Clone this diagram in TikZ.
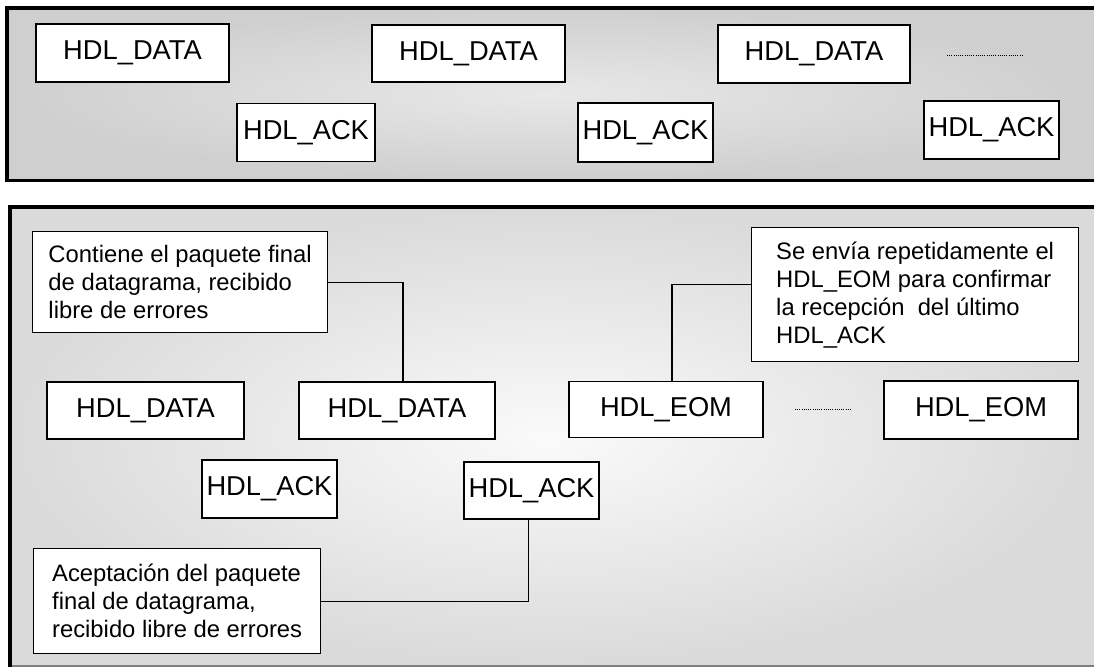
\documentclass[tikz,border=0pt]{standalone}
\usepackage{fontspec}
\setmainfont{Liberation Sans}
\definecolor{topout}{HTML}{CFCFCF}
\definecolor{topin}{HTML}{E8E8E8}
\definecolor{botout}{HTML}{DADADA}
\definecolor{botin}{HTML}{FAFAFA}
\begin{document}
\begin{tikzpicture}[x=1pt,y=-1pt,
  pkt/.style={draw=black, line width=1.3pt, fill=white, inner sep=0pt,
    font=\fontsize{27.3}{31}\selectfont, minimum height=58pt},
  note/.style={draw=black, line width=1.3pt, fill=white, align=left,
    font=\fontsize{23.8}{28}\selectfont, inner sep=0pt, anchor=north west},
  link/.style={line width=1.3pt, draw=black},
  dotline/.style={line width=0.9pt, dash pattern=on 1pt off 1.2pt},
  frame/.style={line width=3.5pt, draw=black}]
\useasboundingbox (0,0) rectangle (1094,667);
% top panel
\fill[topout] (7,8) rectangle (1094,180);
\shade[inner color=topin, outer color=topout] (7,8) rectangle (1086,180);
\draw[frame] (1094,8) -- (7,8) -- (7,180.5) -- (1094,180.5);
% bottom panel
\fill[botout] (10,207) rectangle (1094,666);
\shade[inner color=botin, outer color=botout] (10,207) rectangle (1086,666);
\draw[gray, line width=1.2pt] (10,666) -- (1094,666);
\draw[frame, line width=4pt] (1094,207) -- (10,207) -- (10,667);

% top panel packets
\node[pkt, minimum width=193pt] (d1) at (132.5,53) {HDL\_DATA};
\node[pkt, minimum width=138pt] (a1) at (306,132.5) {HDL\_ACK};
\node[pkt, minimum width=193pt, minimum height=57pt] (d2) at (468.5,53.5) {HDL\_DATA};
\node[pkt, minimum width=135pt, minimum height=59pt] (a2) at (645.5,132.5) {HDL\_ACK};
\node[pkt, minimum width=192pt] (d3) at (814,54) {HDL\_DATA};
\node[pkt, minimum width=135pt] (a3) at (991.5,130) {HDL\_ACK};
\draw[dotline] (947,55) -- (1022,55);

% bottom panel packets
\node[pkt, minimum width=197pt, minimum height=57pt] (da) at (145.5,410.5) {HDL\_DATA};
\node[pkt, minimum width=196pt, minimum height=57pt] (db) at (397,410.5) {HDL\_DATA};
\node[pkt, minimum width=194pt, minimum height=56pt] (ea) at (666,409.5) {HDL\_EOM};
\node[pkt, minimum width=194pt] (eb) at (981,410) {HDL\_EOM};
\draw[dotline] (795,409) -- (851,409);
\node[pkt, minimum width=135pt] (aa) at (269.5,489) {HDL\_ACK};
\node[pkt, minimum width=135pt, minimum height=57pt] (ab) at (531.5,490.5) {HDL\_ACK};

% notes
\node[note, minimum width=295pt, minimum height=101pt] (c1) at (32,231)
  {Contiene el paquete final\\de datagrama, recibido\\libre de errores};
\node[note, minimum width=327pt, minimum height=134pt] (c2) at (751,227)
  {Se envía repetidamente el\\HDL\_EOM para confirmar\\la recepción~ del último\\HDL\_ACK};
\node[note, minimum width=287pt, minimum height=105pt] (c3) at (33,548)
  {Aceptación del paquete\\final de datagrama,\\recibido libre de errores};

% connectors
\draw[link] (c1.east) -| ([xshift=6pt]db.north);
\draw[link] ([yshift=10pt]c2.west) -| ([xshift=6pt]ea.north);
\draw[link] (c3.east) -| ([xshift=-3pt]ab.south);
\end{tikzpicture}
\end{document}
